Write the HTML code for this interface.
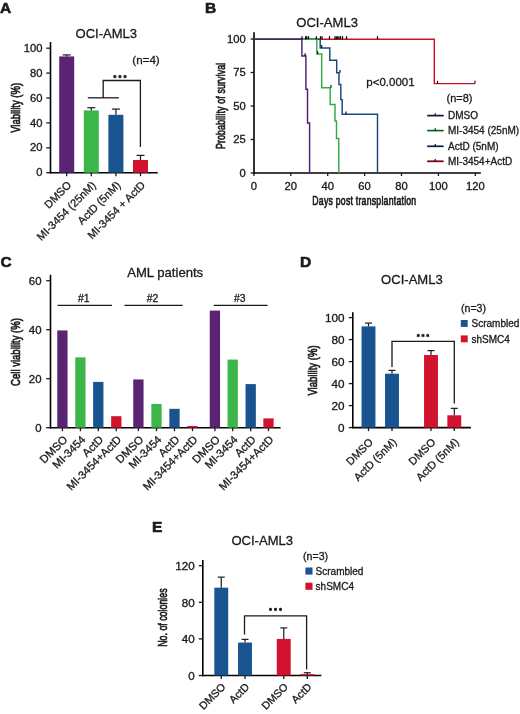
<!DOCTYPE html>
<html><head><meta charset="utf-8"><style>
html,body{margin:0;padding:0;background:#fff;}
svg{display:block;will-change:transform;}
text{font-family:"Liberation Sans", sans-serif;}
</style></head><body>
<svg width="520" height="714" viewBox="0 0 520 714">
<rect width="520" height="714" fill="#fff"/>
<text transform="translate(0.00,13.40)" font-size="15.5" text-anchor="start" font-weight="bold" fill="#1a1a1a"  stroke="#1a1a1a" stroke-width="0.6">A</text>
<text transform="translate(106.30,38.00) scale(0.975,1)" font-size="13.4" text-anchor="middle" font-weight="normal" fill="#1a1a1a"  stroke="#1a1a1a" stroke-width="0.3">OCI-AML3</text>
<line x1="50.50" y1="42.00" x2="50.50" y2="173.35" stroke="#000" stroke-width="1.6"/>
<line x1="46.30" y1="172.70" x2="50.50" y2="172.70" stroke="#1a1a1a" stroke-width="1.3"/>
<text transform="translate(42.50,176.30) scale(1.1,1)" font-size="10.2" text-anchor="end" font-weight="normal" fill="#1a1a1a"  stroke="#1a1a1a" stroke-width="0.3">0</text>
<line x1="46.30" y1="147.80" x2="50.50" y2="147.80" stroke="#1a1a1a" stroke-width="1.3"/>
<text transform="translate(42.50,151.40) scale(1.1,1)" font-size="10.2" text-anchor="end" font-weight="normal" fill="#1a1a1a"  stroke="#1a1a1a" stroke-width="0.3">20</text>
<line x1="46.30" y1="122.90" x2="50.50" y2="122.90" stroke="#1a1a1a" stroke-width="1.3"/>
<text transform="translate(42.50,126.50) scale(1.1,1)" font-size="10.2" text-anchor="end" font-weight="normal" fill="#1a1a1a"  stroke="#1a1a1a" stroke-width="0.3">40</text>
<line x1="46.30" y1="98.00" x2="50.50" y2="98.00" stroke="#1a1a1a" stroke-width="1.3"/>
<text transform="translate(42.50,101.60) scale(1.1,1)" font-size="10.2" text-anchor="end" font-weight="normal" fill="#1a1a1a"  stroke="#1a1a1a" stroke-width="0.3">60</text>
<line x1="46.30" y1="73.10" x2="50.50" y2="73.10" stroke="#1a1a1a" stroke-width="1.3"/>
<text transform="translate(42.50,76.70) scale(1.1,1)" font-size="10.2" text-anchor="end" font-weight="normal" fill="#1a1a1a"  stroke="#1a1a1a" stroke-width="0.3">80</text>
<line x1="46.30" y1="48.20" x2="50.50" y2="48.20" stroke="#1a1a1a" stroke-width="1.3"/>
<text transform="translate(42.50,51.80) scale(1.1,1)" font-size="10.2" text-anchor="end" font-weight="normal" fill="#1a1a1a"  stroke="#1a1a1a" stroke-width="0.3">100</text>
<line x1="49.70" y1="172.70" x2="157.70" y2="172.70" stroke="#000" stroke-width="1.6"/>
<rect x="59.20" y="56.42" width="15.00" height="116.28" fill="#5b2473"/>
<line x1="66.70" y1="56.42" x2="66.70" y2="54.92" stroke="#1a1a1a" stroke-width="1.2"/>
<line x1="62.70" y1="54.92" x2="70.70" y2="54.92" stroke="#1a1a1a" stroke-width="1.2"/>
<line x1="66.70" y1="172.70" x2="66.70" y2="176.20" stroke="#1a1a1a" stroke-width="1.3"/>
<rect x="83.80" y="110.45" width="15.00" height="62.25" fill="#3cb54b"/>
<line x1="91.30" y1="110.45" x2="91.30" y2="107.71" stroke="#1a1a1a" stroke-width="1.2"/>
<line x1="87.30" y1="107.71" x2="95.30" y2="107.71" stroke="#1a1a1a" stroke-width="1.2"/>
<line x1="91.30" y1="172.70" x2="91.30" y2="176.20" stroke="#1a1a1a" stroke-width="1.3"/>
<rect x="108.40" y="114.81" width="15.00" height="57.89" fill="#1a5490"/>
<line x1="115.90" y1="114.81" x2="115.90" y2="109.08" stroke="#1a1a1a" stroke-width="1.2"/>
<line x1="111.90" y1="109.08" x2="119.90" y2="109.08" stroke="#1a1a1a" stroke-width="1.2"/>
<line x1="115.90" y1="172.70" x2="115.90" y2="176.20" stroke="#1a1a1a" stroke-width="1.3"/>
<rect x="133.00" y="160.00" width="15.00" height="12.70" fill="#d1132f"/>
<line x1="140.50" y1="160.00" x2="140.50" y2="155.39" stroke="#1a1a1a" stroke-width="1.2"/>
<line x1="136.50" y1="155.39" x2="144.50" y2="155.39" stroke="#1a1a1a" stroke-width="1.2"/>
<line x1="140.50" y1="172.70" x2="140.50" y2="176.20" stroke="#1a1a1a" stroke-width="1.3"/>
<line x1="87.80" y1="97.80" x2="118.90" y2="97.80" stroke="#1a1a1a" stroke-width="1.3"/>
<polyline points="103.20,97.80 103.20,80.50 140.40,80.50 140.40,147.00" fill="none" stroke="#1a1a1a" stroke-width="1.3" stroke-linejoin="miter"/>
<circle cx="114.90" cy="76.60" r="1.35" fill="#1a1a1a"/>
<line x1="114.90" y1="74.85" x2="114.90" y2="78.35" stroke="#1a1a1a" stroke-width="0.7" transform="rotate(0 114.90 76.60)"/>
<line x1="114.90" y1="74.85" x2="114.90" y2="78.35" stroke="#1a1a1a" stroke-width="0.7" transform="rotate(60 114.90 76.60)"/>
<line x1="114.90" y1="74.85" x2="114.90" y2="78.35" stroke="#1a1a1a" stroke-width="0.7" transform="rotate(120 114.90 76.60)"/>
<circle cx="119.95" cy="76.60" r="1.35" fill="#1a1a1a"/>
<line x1="119.95" y1="74.85" x2="119.95" y2="78.35" stroke="#1a1a1a" stroke-width="0.7" transform="rotate(0 119.95 76.60)"/>
<line x1="119.95" y1="74.85" x2="119.95" y2="78.35" stroke="#1a1a1a" stroke-width="0.7" transform="rotate(60 119.95 76.60)"/>
<line x1="119.95" y1="74.85" x2="119.95" y2="78.35" stroke="#1a1a1a" stroke-width="0.7" transform="rotate(120 119.95 76.60)"/>
<circle cx="125.00" cy="76.60" r="1.35" fill="#1a1a1a"/>
<line x1="125.00" y1="74.85" x2="125.00" y2="78.35" stroke="#1a1a1a" stroke-width="0.7" transform="rotate(0 125.00 76.60)"/>
<line x1="125.00" y1="74.85" x2="125.00" y2="78.35" stroke="#1a1a1a" stroke-width="0.7" transform="rotate(60 125.00 76.60)"/>
<line x1="125.00" y1="74.85" x2="125.00" y2="78.35" stroke="#1a1a1a" stroke-width="0.7" transform="rotate(120 125.00 76.60)"/>
<text transform="translate(146.00,63.60)" font-size="11.6" text-anchor="middle" font-weight="normal" fill="#1a1a1a"  stroke="#1a1a1a" stroke-width="0.3">(n=4)</text>
<text transform="translate(19.50,107.90) rotate(-90) scale(0.73,1)" font-size="13" text-anchor="middle" font-weight="normal" fill="#1a1a1a"  stroke="#1a1a1a" stroke-width="0.7">Viability (%)</text>
<text transform="translate(72.10,185.80) rotate(-45)" font-size="11" text-anchor="end" font-weight="normal" fill="#1a1a1a"  stroke="#1a1a1a" stroke-width="0.3">DMSO</text>
<text transform="translate(96.70,185.80) rotate(-45)" font-size="11" text-anchor="end" font-weight="normal" fill="#1a1a1a"  stroke="#1a1a1a" stroke-width="0.3">MI-3454 (25nM)</text>
<text transform="translate(121.30,185.80) rotate(-45)" font-size="11" text-anchor="end" font-weight="normal" fill="#1a1a1a"  stroke="#1a1a1a" stroke-width="0.3">ActD (5nM)</text>
<text transform="translate(145.90,185.80) rotate(-45)" font-size="11" text-anchor="end" font-weight="normal" fill="#1a1a1a"  stroke="#1a1a1a" stroke-width="0.3">MI-3454 + ActD</text>
<text transform="translate(205.00,13.40)" font-size="15.5" text-anchor="start" font-weight="bold" fill="#1a1a1a"  stroke="#1a1a1a" stroke-width="0.6">B</text>
<text transform="translate(327.10,27.40) scale(0.975,1)" font-size="13.4" text-anchor="middle" font-weight="normal" fill="#1a1a1a"  stroke="#1a1a1a" stroke-width="0.3">OCI-AML3</text>
<line x1="254.00" y1="32.30" x2="254.00" y2="173.65" stroke="#000" stroke-width="1.6"/>
<line x1="250.60" y1="173.00" x2="254.00" y2="173.00" stroke="#1a1a1a" stroke-width="1.3"/>
<text transform="translate(245.80,176.60) scale(1.1,1)" font-size="10.2" text-anchor="end" font-weight="normal" fill="#1a1a1a"  stroke="#1a1a1a" stroke-width="0.3">0</text>
<line x1="250.60" y1="139.50" x2="254.00" y2="139.50" stroke="#1a1a1a" stroke-width="1.3"/>
<text transform="translate(245.80,143.10) scale(1.1,1)" font-size="10.2" text-anchor="end" font-weight="normal" fill="#1a1a1a"  stroke="#1a1a1a" stroke-width="0.3">25</text>
<line x1="250.60" y1="106.00" x2="254.00" y2="106.00" stroke="#1a1a1a" stroke-width="1.3"/>
<text transform="translate(245.80,109.60) scale(1.1,1)" font-size="10.2" text-anchor="end" font-weight="normal" fill="#1a1a1a"  stroke="#1a1a1a" stroke-width="0.3">50</text>
<line x1="250.60" y1="72.50" x2="254.00" y2="72.50" stroke="#1a1a1a" stroke-width="1.3"/>
<text transform="translate(245.80,76.10) scale(1.1,1)" font-size="10.2" text-anchor="end" font-weight="normal" fill="#1a1a1a"  stroke="#1a1a1a" stroke-width="0.3">75</text>
<line x1="250.60" y1="39.00" x2="254.00" y2="39.00" stroke="#1a1a1a" stroke-width="1.3"/>
<text transform="translate(245.80,42.60) scale(1.1,1)" font-size="10.2" text-anchor="end" font-weight="normal" fill="#1a1a1a"  stroke="#1a1a1a" stroke-width="0.3">100</text>
<line x1="253.20" y1="173.00" x2="480.80" y2="173.00" stroke="#000" stroke-width="1.6"/>
<line x1="253.90" y1="173.00" x2="253.90" y2="176.00" stroke="#1a1a1a" stroke-width="1.3"/>
<text transform="translate(253.90,190.00) scale(1.1,1)" font-size="10.2" text-anchor="middle" font-weight="normal" fill="#1a1a1a"  stroke="#1a1a1a" stroke-width="0.3">0</text>
<line x1="290.80" y1="173.00" x2="290.80" y2="176.00" stroke="#1a1a1a" stroke-width="1.3"/>
<text transform="translate(290.80,190.00) scale(1.1,1)" font-size="10.2" text-anchor="middle" font-weight="normal" fill="#1a1a1a"  stroke="#1a1a1a" stroke-width="0.3">20</text>
<line x1="327.70" y1="173.00" x2="327.70" y2="176.00" stroke="#1a1a1a" stroke-width="1.3"/>
<text transform="translate(327.70,190.00) scale(1.1,1)" font-size="10.2" text-anchor="middle" font-weight="normal" fill="#1a1a1a"  stroke="#1a1a1a" stroke-width="0.3">40</text>
<line x1="364.60" y1="173.00" x2="364.60" y2="176.00" stroke="#1a1a1a" stroke-width="1.3"/>
<text transform="translate(364.60,190.00) scale(1.1,1)" font-size="10.2" text-anchor="middle" font-weight="normal" fill="#1a1a1a"  stroke="#1a1a1a" stroke-width="0.3">60</text>
<line x1="401.50" y1="173.00" x2="401.50" y2="176.00" stroke="#1a1a1a" stroke-width="1.3"/>
<text transform="translate(401.50,190.00) scale(1.1,1)" font-size="10.2" text-anchor="middle" font-weight="normal" fill="#1a1a1a"  stroke="#1a1a1a" stroke-width="0.3">80</text>
<line x1="438.40" y1="173.00" x2="438.40" y2="176.00" stroke="#1a1a1a" stroke-width="1.3"/>
<text transform="translate(438.40,190.00) scale(1.1,1)" font-size="10.2" text-anchor="middle" font-weight="normal" fill="#1a1a1a"  stroke="#1a1a1a" stroke-width="0.3">100</text>
<line x1="475.30" y1="173.00" x2="475.30" y2="176.00" stroke="#1a1a1a" stroke-width="1.3"/>
<text transform="translate(475.30,190.00) scale(1.1,1)" font-size="10.2" text-anchor="middle" font-weight="normal" fill="#1a1a1a"  stroke="#1a1a1a" stroke-width="0.3">120</text>
<text transform="translate(364.40,204.90) scale(0.68,1)" font-size="12.8" text-anchor="middle" font-weight="normal" fill="#1a1a1a" letter-spacing="0.35" stroke="#1a1a1a" stroke-width="0.7">Days post transplantation</text>
<text transform="translate(224.90,105.80) rotate(-90) scale(0.69,1)" font-size="12.8" text-anchor="middle" font-weight="normal" fill="#1a1a1a" letter-spacing="0.2" stroke="#1a1a1a" stroke-width="0.7">Probability of survival</text>
<polyline points="254.00,39.20 434.30,39.20 434.30,83.60 475.00,83.60" fill="none" stroke="#c5122e" stroke-width="1.45" stroke-linejoin="miter"/>
<polyline points="254.00,39.20 320.20,39.20 320.20,47.90 329.80,47.90 329.80,60.20 336.70,60.20 336.70,72.70 339.00,72.70 339.00,84.40 340.80,84.40 340.80,99.60 342.20,99.60 342.20,114.30 377.50,114.30 377.50,173.00" fill="none" stroke="#174880" stroke-width="1.45" stroke-linejoin="miter"/>
<polyline points="254.00,39.20 316.80,39.20 316.80,54.00 321.70,54.00 321.70,87.80 330.20,87.80 330.20,104.50 335.00,104.50 335.00,121.00 336.50,121.00 336.50,138.50 338.80,138.50 338.80,173.00" fill="none" stroke="#34aa45" stroke-width="1.45" stroke-linejoin="miter"/>
<polyline points="254.00,39.20 301.90,39.20 301.90,56.00 305.90,56.00 305.90,89.20 307.50,89.20 307.50,122.90 309.60,122.90 309.60,173.00" fill="none" stroke="#4c2270" stroke-width="1.45" stroke-linejoin="miter"/>
<line x1="302.00" y1="36.20" x2="302.00" y2="39.20" stroke="#000" stroke-width="1.2"/>
<line x1="305.60" y1="36.20" x2="305.60" y2="39.20" stroke="#000" stroke-width="1.2"/>
<line x1="306.70" y1="36.20" x2="306.70" y2="39.20" stroke="#000" stroke-width="1.2"/>
<line x1="308.50" y1="36.20" x2="308.50" y2="39.20" stroke="#000" stroke-width="1.2"/>
<line x1="316.30" y1="36.20" x2="316.30" y2="39.20" stroke="#000" stroke-width="1.2"/>
<line x1="320.50" y1="36.20" x2="320.50" y2="39.20" stroke="#000" stroke-width="1.2"/>
<line x1="322.00" y1="36.20" x2="322.00" y2="39.20" stroke="#000" stroke-width="1.2"/>
<line x1="329.50" y1="36.20" x2="329.50" y2="39.20" stroke="#000" stroke-width="1.2"/>
<line x1="335.00" y1="36.20" x2="335.00" y2="39.20" stroke="#000" stroke-width="1.2"/>
<line x1="336.30" y1="36.20" x2="336.30" y2="39.20" stroke="#000" stroke-width="1.2"/>
<line x1="337.70" y1="36.20" x2="337.70" y2="39.20" stroke="#000" stroke-width="1.2"/>
<line x1="339.00" y1="36.20" x2="339.00" y2="39.20" stroke="#000" stroke-width="1.2"/>
<line x1="340.50" y1="36.20" x2="340.50" y2="39.20" stroke="#000" stroke-width="1.2"/>
<line x1="342.50" y1="36.20" x2="342.50" y2="39.20" stroke="#000" stroke-width="1.2"/>
<line x1="346.50" y1="36.20" x2="346.50" y2="39.20" stroke="#000" stroke-width="1.2"/>
<line x1="377.50" y1="36.20" x2="377.50" y2="39.20" stroke="#000" stroke-width="1.2"/>
<line x1="437.50" y1="80.80" x2="437.50" y2="83.60" stroke="#000" stroke-width="1.1"/>
<line x1="475.00" y1="80.80" x2="475.00" y2="83.60" stroke="#000" stroke-width="1.1"/>
<line x1="321.70" y1="45.10" x2="321.70" y2="47.90" stroke="#000" stroke-width="1.1"/>
<line x1="346.00" y1="111.50" x2="346.00" y2="114.30" stroke="#000" stroke-width="1.1"/>
<line x1="305.00" y1="53.20" x2="305.00" y2="56.00" stroke="#000" stroke-width="1.1"/>
<line x1="317.70" y1="51.20" x2="317.70" y2="54.00" stroke="#000" stroke-width="1.1"/>
<line x1="331.00" y1="85.00" x2="331.00" y2="87.80" stroke="#000" stroke-width="1.1"/>
<line x1="340.00" y1="69.90" x2="340.00" y2="72.70" stroke="#000" stroke-width="1.1"/>
<text transform="translate(390.50,85.50)" font-size="11.5" text-anchor="middle" font-weight="normal" fill="#1a1a1a"  stroke="#1a1a1a" stroke-width="0.3">p&lt;0.0001</text>
<text transform="translate(459.50,101.50)" font-size="11" text-anchor="middle" font-weight="normal" fill="#1a1a1a"  stroke="#1a1a1a" stroke-width="0.3">(n=8)</text>
<line x1="427.20" y1="115.60" x2="443.60" y2="115.60" stroke="#4c2270" stroke-width="1.8"/>
<line x1="427.20" y1="115.60" x2="443.60" y2="115.60" stroke="#000" stroke-width="0.6"/>
<line x1="435.20" y1="113.20" x2="435.20" y2="115.60" stroke="#000" stroke-width="1.1"/>
<text transform="translate(448.00,118.80)" font-size="10.0" text-anchor="start" font-weight="normal" fill="#1a1a1a"  stroke="#1a1a1a" stroke-width="0.3">DMSO</text>
<line x1="427.20" y1="130.60" x2="443.60" y2="130.60" stroke="#34aa45" stroke-width="1.8"/>
<line x1="427.20" y1="130.60" x2="443.60" y2="130.60" stroke="#000" stroke-width="0.6"/>
<line x1="435.20" y1="128.20" x2="435.20" y2="130.60" stroke="#000" stroke-width="1.1"/>
<text transform="translate(448.00,133.80)" font-size="10.0" text-anchor="start" font-weight="normal" fill="#1a1a1a"  stroke="#1a1a1a" stroke-width="0.3">MI-3454 (25nM)</text>
<line x1="427.20" y1="146.30" x2="443.60" y2="146.30" stroke="#174880" stroke-width="1.8"/>
<line x1="427.20" y1="146.30" x2="443.60" y2="146.30" stroke="#000" stroke-width="0.6"/>
<line x1="435.20" y1="143.90" x2="435.20" y2="146.30" stroke="#000" stroke-width="1.1"/>
<text transform="translate(448.00,149.50)" font-size="10.0" text-anchor="start" font-weight="normal" fill="#1a1a1a"  stroke="#1a1a1a" stroke-width="0.3">ActD (5nM)</text>
<line x1="427.20" y1="161.30" x2="443.60" y2="161.30" stroke="#c5122e" stroke-width="1.8"/>
<line x1="427.20" y1="161.30" x2="443.60" y2="161.30" stroke="#000" stroke-width="0.6"/>
<line x1="435.20" y1="158.90" x2="435.20" y2="161.30" stroke="#000" stroke-width="1.1"/>
<text transform="translate(448.00,164.50)" font-size="10.0" text-anchor="start" font-weight="normal" fill="#1a1a1a"  stroke="#1a1a1a" stroke-width="0.3">MI-3454+ActD</text>
<text transform="translate(0.60,266.90)" font-size="15.5" text-anchor="start" font-weight="bold" fill="#1a1a1a"  stroke="#1a1a1a" stroke-width="0.6">C</text>
<text transform="translate(165.20,277.30)" font-size="13.1" text-anchor="middle" font-weight="normal" fill="#1a1a1a"  stroke="#1a1a1a" stroke-width="0.3">AML patients</text>
<line x1="50.50" y1="274.80" x2="50.50" y2="428.35" stroke="#000" stroke-width="1.6"/>
<line x1="46.20" y1="427.70" x2="50.50" y2="427.70" stroke="#1a1a1a" stroke-width="1.3"/>
<text transform="translate(41.50,432.10) scale(1.12,1)" font-size="10.2" text-anchor="end" font-weight="normal" fill="#1a1a1a"  stroke="#1a1a1a" stroke-width="0.3">0</text>
<line x1="46.20" y1="378.70" x2="50.50" y2="378.70" stroke="#1a1a1a" stroke-width="1.3"/>
<text transform="translate(41.50,383.10) scale(1.12,1)" font-size="10.2" text-anchor="end" font-weight="normal" fill="#1a1a1a"  stroke="#1a1a1a" stroke-width="0.3">20</text>
<line x1="46.20" y1="329.70" x2="50.50" y2="329.70" stroke="#1a1a1a" stroke-width="1.3"/>
<text transform="translate(41.50,334.10) scale(1.12,1)" font-size="10.2" text-anchor="end" font-weight="normal" fill="#1a1a1a"  stroke="#1a1a1a" stroke-width="0.3">40</text>
<line x1="46.20" y1="280.70" x2="50.50" y2="280.70" stroke="#1a1a1a" stroke-width="1.3"/>
<text transform="translate(41.50,285.10) scale(1.12,1)" font-size="10.2" text-anchor="end" font-weight="normal" fill="#1a1a1a"  stroke="#1a1a1a" stroke-width="0.3">60</text>
<line x1="49.70" y1="427.70" x2="280.60" y2="427.70" stroke="#000" stroke-width="1.6"/>
<rect x="57.25" y="330.43" width="10.30" height="97.27" fill="#5b2473"/>
<line x1="62.40" y1="427.70" x2="62.40" y2="431.20" stroke="#1a1a1a" stroke-width="1.3"/>
<text transform="translate(68.10,440.30) rotate(-45)" font-size="11.2" text-anchor="end" font-weight="normal" fill="#1a1a1a"  stroke="#1a1a1a" stroke-width="0.3">DMSO</text>
<rect x="75.25" y="357.38" width="10.30" height="70.31" fill="#3cb54b"/>
<line x1="80.40" y1="427.70" x2="80.40" y2="431.20" stroke="#1a1a1a" stroke-width="1.3"/>
<text transform="translate(86.10,440.30) rotate(-45)" font-size="11.2" text-anchor="end" font-weight="normal" fill="#1a1a1a"  stroke="#1a1a1a" stroke-width="0.3">MI-3454</text>
<rect x="93.15" y="381.88" width="10.30" height="45.81" fill="#1a5490"/>
<line x1="98.30" y1="427.70" x2="98.30" y2="431.20" stroke="#1a1a1a" stroke-width="1.3"/>
<text transform="translate(104.00,440.30) rotate(-45)" font-size="11.2" text-anchor="end" font-weight="normal" fill="#1a1a1a"  stroke="#1a1a1a" stroke-width="0.3">ActD</text>
<rect x="111.15" y="416.19" width="10.30" height="11.51" fill="#d1132f"/>
<line x1="116.30" y1="427.70" x2="116.30" y2="431.20" stroke="#1a1a1a" stroke-width="1.3"/>
<text transform="translate(122.00,440.30) rotate(-45)" font-size="11.2" text-anchor="end" font-weight="normal" fill="#1a1a1a"  stroke="#1a1a1a" stroke-width="0.3">MI-3454+ActD</text>
<rect x="133.25" y="379.44" width="10.30" height="48.26" fill="#5b2473"/>
<line x1="138.40" y1="427.70" x2="138.40" y2="431.20" stroke="#1a1a1a" stroke-width="1.3"/>
<text transform="translate(144.10,440.30) rotate(-45)" font-size="11.2" text-anchor="end" font-weight="normal" fill="#1a1a1a"  stroke="#1a1a1a" stroke-width="0.3">DMSO</text>
<rect x="151.35" y="403.94" width="10.30" height="23.76" fill="#3cb54b"/>
<line x1="156.50" y1="427.70" x2="156.50" y2="431.20" stroke="#1a1a1a" stroke-width="1.3"/>
<text transform="translate(162.20,440.30) rotate(-45)" font-size="11.2" text-anchor="end" font-weight="normal" fill="#1a1a1a"  stroke="#1a1a1a" stroke-width="0.3">MI-3454</text>
<rect x="169.35" y="408.83" width="10.30" height="18.87" fill="#1a5490"/>
<line x1="174.50" y1="427.70" x2="174.50" y2="431.20" stroke="#1a1a1a" stroke-width="1.3"/>
<text transform="translate(180.20,440.30) rotate(-45)" font-size="11.2" text-anchor="end" font-weight="normal" fill="#1a1a1a"  stroke="#1a1a1a" stroke-width="0.3">ActD</text>
<rect x="187.35" y="425.99" width="10.30" height="1.71" fill="#d1132f"/>
<line x1="192.50" y1="427.70" x2="192.50" y2="431.20" stroke="#1a1a1a" stroke-width="1.3"/>
<text transform="translate(198.20,440.30) rotate(-45)" font-size="11.2" text-anchor="end" font-weight="normal" fill="#1a1a1a"  stroke="#1a1a1a" stroke-width="0.3">MI-3454+ActD</text>
<rect x="209.75" y="310.59" width="10.30" height="117.11" fill="#5b2473"/>
<line x1="214.90" y1="427.70" x2="214.90" y2="431.20" stroke="#1a1a1a" stroke-width="1.3"/>
<text transform="translate(220.60,440.30) rotate(-45)" font-size="11.2" text-anchor="end" font-weight="normal" fill="#1a1a1a"  stroke="#1a1a1a" stroke-width="0.3">DMSO</text>
<rect x="227.55" y="359.59" width="10.30" height="68.11" fill="#3cb54b"/>
<line x1="232.70" y1="427.70" x2="232.70" y2="431.20" stroke="#1a1a1a" stroke-width="1.3"/>
<text transform="translate(238.40,440.30) rotate(-45)" font-size="11.2" text-anchor="end" font-weight="normal" fill="#1a1a1a"  stroke="#1a1a1a" stroke-width="0.3">MI-3454</text>
<rect x="245.55" y="384.09" width="10.30" height="43.61" fill="#1a5490"/>
<line x1="250.70" y1="427.70" x2="250.70" y2="431.20" stroke="#1a1a1a" stroke-width="1.3"/>
<text transform="translate(256.40,440.30) rotate(-45)" font-size="11.2" text-anchor="end" font-weight="normal" fill="#1a1a1a"  stroke="#1a1a1a" stroke-width="0.3">ActD</text>
<rect x="263.35" y="418.39" width="10.30" height="9.31" fill="#d1132f"/>
<line x1="268.50" y1="427.70" x2="268.50" y2="431.20" stroke="#1a1a1a" stroke-width="1.3"/>
<text transform="translate(274.20,440.30) rotate(-45)" font-size="11.2" text-anchor="end" font-weight="normal" fill="#1a1a1a"  stroke="#1a1a1a" stroke-width="0.3">MI-3454+ActD</text>
<line x1="57.60" y1="305.40" x2="112.00" y2="305.40" stroke="#1a1a1a" stroke-width="1.3"/>
<text transform="translate(83.80,301.60)" font-size="10.4" text-anchor="middle" font-weight="normal" fill="#1a1a1a"  stroke="#1a1a1a" stroke-width="0.3">#1</text>
<line x1="124.50" y1="305.40" x2="182.70" y2="305.40" stroke="#1a1a1a" stroke-width="1.3"/>
<text transform="translate(152.60,301.60)" font-size="10.4" text-anchor="middle" font-weight="normal" fill="#1a1a1a"  stroke="#1a1a1a" stroke-width="0.3">#2</text>
<line x1="213.80" y1="305.40" x2="267.60" y2="305.40" stroke="#1a1a1a" stroke-width="1.3"/>
<text transform="translate(239.70,301.60)" font-size="10.4" text-anchor="middle" font-weight="normal" fill="#1a1a1a"  stroke="#1a1a1a" stroke-width="0.3">#3</text>
<text transform="translate(19.60,352.00) rotate(-90) scale(0.735,1)" font-size="13" text-anchor="middle" font-weight="normal" fill="#1a1a1a"  stroke="#1a1a1a" stroke-width="0.7">Cell viability (%)</text>
<text transform="translate(300.00,266.60)" font-size="15.5" text-anchor="start" font-weight="bold" fill="#1a1a1a"  stroke="#1a1a1a" stroke-width="0.6">D</text>
<text transform="translate(411.90,284.20) scale(0.975,1)" font-size="13.4" text-anchor="middle" font-weight="normal" fill="#1a1a1a"  stroke="#1a1a1a" stroke-width="0.3">OCI-AML3</text>
<line x1="352.80" y1="312.30" x2="352.80" y2="428.25" stroke="#000" stroke-width="1.6"/>
<line x1="348.80" y1="427.60" x2="352.80" y2="427.60" stroke="#1a1a1a" stroke-width="1.3"/>
<text transform="translate(344.60,431.60) scale(1.15,1)" font-size="10.2" text-anchor="end" font-weight="normal" fill="#1a1a1a"  stroke="#1a1a1a" stroke-width="0.3">0</text>
<line x1="348.80" y1="405.60" x2="352.80" y2="405.60" stroke="#1a1a1a" stroke-width="1.3"/>
<text transform="translate(344.60,409.60) scale(1.15,1)" font-size="10.2" text-anchor="end" font-weight="normal" fill="#1a1a1a"  stroke="#1a1a1a" stroke-width="0.3">20</text>
<line x1="348.80" y1="383.60" x2="352.80" y2="383.60" stroke="#1a1a1a" stroke-width="1.3"/>
<text transform="translate(344.60,387.60) scale(1.15,1)" font-size="10.2" text-anchor="end" font-weight="normal" fill="#1a1a1a"  stroke="#1a1a1a" stroke-width="0.3">40</text>
<line x1="348.80" y1="361.60" x2="352.80" y2="361.60" stroke="#1a1a1a" stroke-width="1.3"/>
<text transform="translate(344.60,365.60) scale(1.15,1)" font-size="10.2" text-anchor="end" font-weight="normal" fill="#1a1a1a"  stroke="#1a1a1a" stroke-width="0.3">60</text>
<line x1="348.80" y1="339.60" x2="352.80" y2="339.60" stroke="#1a1a1a" stroke-width="1.3"/>
<text transform="translate(344.60,343.60) scale(1.15,1)" font-size="10.2" text-anchor="end" font-weight="normal" fill="#1a1a1a"  stroke="#1a1a1a" stroke-width="0.3">80</text>
<line x1="348.80" y1="317.60" x2="352.80" y2="317.60" stroke="#1a1a1a" stroke-width="1.3"/>
<text transform="translate(344.60,321.60) scale(1.15,1)" font-size="10.2" text-anchor="end" font-weight="normal" fill="#1a1a1a"  stroke="#1a1a1a" stroke-width="0.3">100</text>
<line x1="352.00" y1="427.60" x2="470.90" y2="427.60" stroke="#000" stroke-width="1.6"/>
<rect x="361.55" y="326.40" width="13.90" height="101.20" fill="#1a5490"/>
<line x1="368.50" y1="326.40" x2="368.50" y2="323.10" stroke="#1a1a1a" stroke-width="1.2"/>
<line x1="365.00" y1="323.10" x2="372.00" y2="323.10" stroke="#1a1a1a" stroke-width="1.2"/>
<line x1="368.50" y1="427.60" x2="368.50" y2="431.10" stroke="#1a1a1a" stroke-width="1.3"/>
<text transform="translate(373.70,442.80) rotate(-45)" font-size="10.9" text-anchor="end" font-weight="normal" fill="#1a1a1a"  stroke="#1a1a1a" stroke-width="0.3">DMSO</text>
<rect x="385.05" y="373.70" width="13.90" height="53.90" fill="#1a5490"/>
<line x1="392.00" y1="373.70" x2="392.00" y2="370.40" stroke="#1a1a1a" stroke-width="1.2"/>
<line x1="388.50" y1="370.40" x2="395.50" y2="370.40" stroke="#1a1a1a" stroke-width="1.2"/>
<line x1="392.00" y1="427.60" x2="392.00" y2="431.10" stroke="#1a1a1a" stroke-width="1.3"/>
<text transform="translate(397.20,442.80) rotate(-45)" font-size="10.9" text-anchor="end" font-weight="normal" fill="#1a1a1a"  stroke="#1a1a1a" stroke-width="0.3">ActD (5nM)</text>
<rect x="424.05" y="355.00" width="13.90" height="72.60" fill="#d1132f"/>
<line x1="431.00" y1="355.00" x2="431.00" y2="350.60" stroke="#1a1a1a" stroke-width="1.2"/>
<line x1="427.50" y1="350.60" x2="434.50" y2="350.60" stroke="#1a1a1a" stroke-width="1.2"/>
<line x1="431.00" y1="427.60" x2="431.00" y2="431.10" stroke="#1a1a1a" stroke-width="1.3"/>
<text transform="translate(436.20,442.80) rotate(-45)" font-size="10.9" text-anchor="end" font-weight="normal" fill="#1a1a1a"  stroke="#1a1a1a" stroke-width="0.3">DMSO</text>
<rect x="447.35" y="415.28" width="13.90" height="12.32" fill="#d1132f"/>
<line x1="454.30" y1="415.28" x2="454.30" y2="408.35" stroke="#1a1a1a" stroke-width="1.2"/>
<line x1="450.80" y1="408.35" x2="457.80" y2="408.35" stroke="#1a1a1a" stroke-width="1.2"/>
<line x1="454.30" y1="427.60" x2="454.30" y2="431.10" stroke="#1a1a1a" stroke-width="1.3"/>
<text transform="translate(459.50,442.80) rotate(-45)" font-size="10.9" text-anchor="end" font-weight="normal" fill="#1a1a1a"  stroke="#1a1a1a" stroke-width="0.3">ActD (5nM)</text>
<polyline points="392.00,366.90 392.00,341.40 454.30,341.40 454.30,403.60" fill="none" stroke="#1a1a1a" stroke-width="1.3" stroke-linejoin="miter"/>
<circle cx="418.25" cy="335.50" r="1.35" fill="#1a1a1a"/>
<line x1="418.25" y1="333.75" x2="418.25" y2="337.25" stroke="#1a1a1a" stroke-width="0.7" transform="rotate(0 418.25 335.50)"/>
<line x1="418.25" y1="333.75" x2="418.25" y2="337.25" stroke="#1a1a1a" stroke-width="0.7" transform="rotate(60 418.25 335.50)"/>
<line x1="418.25" y1="333.75" x2="418.25" y2="337.25" stroke="#1a1a1a" stroke-width="0.7" transform="rotate(120 418.25 335.50)"/>
<circle cx="423.00" cy="335.50" r="1.35" fill="#1a1a1a"/>
<line x1="423.00" y1="333.75" x2="423.00" y2="337.25" stroke="#1a1a1a" stroke-width="0.7" transform="rotate(0 423.00 335.50)"/>
<line x1="423.00" y1="333.75" x2="423.00" y2="337.25" stroke="#1a1a1a" stroke-width="0.7" transform="rotate(60 423.00 335.50)"/>
<line x1="423.00" y1="333.75" x2="423.00" y2="337.25" stroke="#1a1a1a" stroke-width="0.7" transform="rotate(120 423.00 335.50)"/>
<circle cx="427.75" cy="335.50" r="1.35" fill="#1a1a1a"/>
<line x1="427.75" y1="333.75" x2="427.75" y2="337.25" stroke="#1a1a1a" stroke-width="0.7" transform="rotate(0 427.75 335.50)"/>
<line x1="427.75" y1="333.75" x2="427.75" y2="337.25" stroke="#1a1a1a" stroke-width="0.7" transform="rotate(60 427.75 335.50)"/>
<line x1="427.75" y1="333.75" x2="427.75" y2="337.25" stroke="#1a1a1a" stroke-width="0.7" transform="rotate(120 427.75 335.50)"/>
<text transform="translate(473.50,311.50)" font-size="10.6" text-anchor="middle" font-weight="normal" fill="#1a1a1a"  stroke="#1a1a1a" stroke-width="0.3">(n=3)</text>
<rect x="460.80" y="320.00" width="6.90" height="6.90" fill="#1a5490"/>
<text transform="translate(471.50,327.20)" font-size="10.0" text-anchor="start" font-weight="normal" fill="#1a1a1a"  stroke="#1a1a1a" stroke-width="0.3">Scrambled</text>
<rect x="460.80" y="335.40" width="6.90" height="6.90" fill="#d1132f"/>
<text transform="translate(471.50,342.50)" font-size="10.0" text-anchor="start" font-weight="normal" fill="#1a1a1a"  stroke="#1a1a1a" stroke-width="0.3">shSMC4</text>
<text transform="translate(316.80,370.50) rotate(-90) scale(0.735,1)" font-size="13" text-anchor="middle" font-weight="normal" fill="#1a1a1a"  stroke="#1a1a1a" stroke-width="0.7">Viability (%)</text>
<text transform="translate(152.00,531.90)" font-size="15.5" text-anchor="start" font-weight="bold" fill="#1a1a1a"  stroke="#1a1a1a" stroke-width="0.6">E</text>
<text transform="translate(262.20,545.10) scale(0.975,1)" font-size="13.4" text-anchor="middle" font-weight="normal" fill="#1a1a1a"  stroke="#1a1a1a" stroke-width="0.3">OCI-AML3</text>
<line x1="202.80" y1="560.00" x2="202.80" y2="676.15" stroke="#000" stroke-width="1.6"/>
<line x1="198.80" y1="675.50" x2="202.80" y2="675.50" stroke="#1a1a1a" stroke-width="1.3"/>
<text transform="translate(194.60,679.70) scale(1.14,1)" font-size="10.2" text-anchor="end" font-weight="normal" fill="#1a1a1a"  stroke="#1a1a1a" stroke-width="0.3">0</text>
<line x1="198.80" y1="638.90" x2="202.80" y2="638.90" stroke="#1a1a1a" stroke-width="1.3"/>
<text transform="translate(194.60,643.10) scale(1.14,1)" font-size="10.2" text-anchor="end" font-weight="normal" fill="#1a1a1a"  stroke="#1a1a1a" stroke-width="0.3">40</text>
<line x1="198.80" y1="602.30" x2="202.80" y2="602.30" stroke="#1a1a1a" stroke-width="1.3"/>
<text transform="translate(194.60,606.50) scale(1.14,1)" font-size="10.2" text-anchor="end" font-weight="normal" fill="#1a1a1a"  stroke="#1a1a1a" stroke-width="0.3">80</text>
<line x1="198.80" y1="565.70" x2="202.80" y2="565.70" stroke="#1a1a1a" stroke-width="1.3"/>
<text transform="translate(194.60,569.90) scale(1.14,1)" font-size="10.2" text-anchor="end" font-weight="normal" fill="#1a1a1a"  stroke="#1a1a1a" stroke-width="0.3">120</text>
<line x1="202.00" y1="675.50" x2="321.30" y2="675.50" stroke="#000" stroke-width="1.6"/>
<rect x="214.30" y="587.66" width="13.90" height="87.84" fill="#1a5490"/>
<line x1="221.25" y1="587.66" x2="221.25" y2="577.14" stroke="#1a1a1a" stroke-width="1.2"/>
<line x1="217.75" y1="577.14" x2="224.75" y2="577.14" stroke="#1a1a1a" stroke-width="1.2"/>
<line x1="221.25" y1="675.50" x2="221.25" y2="679.00" stroke="#1a1a1a" stroke-width="1.3"/>
<text transform="translate(226.15,687.60) rotate(-45)" font-size="10.7" text-anchor="end" font-weight="normal" fill="#1a1a1a"  stroke="#1a1a1a" stroke-width="0.3">DMSO</text>
<rect x="238.05" y="642.56" width="13.90" height="32.94" fill="#1a5490"/>
<line x1="245.00" y1="642.56" x2="245.00" y2="639.36" stroke="#1a1a1a" stroke-width="1.2"/>
<line x1="241.50" y1="639.36" x2="248.50" y2="639.36" stroke="#1a1a1a" stroke-width="1.2"/>
<line x1="245.00" y1="675.50" x2="245.00" y2="679.00" stroke="#1a1a1a" stroke-width="1.3"/>
<text transform="translate(249.90,687.60) rotate(-45)" font-size="10.7" text-anchor="end" font-weight="normal" fill="#1a1a1a"  stroke="#1a1a1a" stroke-width="0.3">ActD</text>
<rect x="276.80" y="638.90" width="13.90" height="36.60" fill="#d1132f"/>
<line x1="283.75" y1="638.90" x2="283.75" y2="627.92" stroke="#1a1a1a" stroke-width="1.2"/>
<line x1="280.25" y1="627.92" x2="287.25" y2="627.92" stroke="#1a1a1a" stroke-width="1.2"/>
<line x1="283.75" y1="675.50" x2="283.75" y2="679.00" stroke="#1a1a1a" stroke-width="1.3"/>
<text transform="translate(288.65,687.60) rotate(-45)" font-size="10.7" text-anchor="end" font-weight="normal" fill="#1a1a1a"  stroke="#1a1a1a" stroke-width="0.3">DMSO</text>
<rect x="300.35" y="674.13" width="13.90" height="1.37" fill="#d1132f"/>
<line x1="307.30" y1="674.13" x2="307.30" y2="672.75" stroke="#1a1a1a" stroke-width="1.2"/>
<line x1="303.80" y1="672.75" x2="310.80" y2="672.75" stroke="#1a1a1a" stroke-width="1.2"/>
<line x1="307.30" y1="675.50" x2="307.30" y2="679.00" stroke="#1a1a1a" stroke-width="1.3"/>
<text transform="translate(312.20,687.60) rotate(-45)" font-size="10.7" text-anchor="end" font-weight="normal" fill="#1a1a1a"  stroke="#1a1a1a" stroke-width="0.3">ActD</text>
<polyline points="244.50,634.50 244.50,615.80 306.60,615.80 306.60,669.50" fill="none" stroke="#1a1a1a" stroke-width="1.3" stroke-linejoin="miter"/>
<circle cx="270.50" cy="609.40" r="1.35" fill="#1a1a1a"/>
<line x1="270.50" y1="607.65" x2="270.50" y2="611.15" stroke="#1a1a1a" stroke-width="0.7" transform="rotate(0 270.50 609.40)"/>
<line x1="270.50" y1="607.65" x2="270.50" y2="611.15" stroke="#1a1a1a" stroke-width="0.7" transform="rotate(60 270.50 609.40)"/>
<line x1="270.50" y1="607.65" x2="270.50" y2="611.15" stroke="#1a1a1a" stroke-width="0.7" transform="rotate(120 270.50 609.40)"/>
<circle cx="275.50" cy="609.40" r="1.35" fill="#1a1a1a"/>
<line x1="275.50" y1="607.65" x2="275.50" y2="611.15" stroke="#1a1a1a" stroke-width="0.7" transform="rotate(0 275.50 609.40)"/>
<line x1="275.50" y1="607.65" x2="275.50" y2="611.15" stroke="#1a1a1a" stroke-width="0.7" transform="rotate(60 275.50 609.40)"/>
<line x1="275.50" y1="607.65" x2="275.50" y2="611.15" stroke="#1a1a1a" stroke-width="0.7" transform="rotate(120 275.50 609.40)"/>
<circle cx="280.50" cy="609.40" r="1.35" fill="#1a1a1a"/>
<line x1="280.50" y1="607.65" x2="280.50" y2="611.15" stroke="#1a1a1a" stroke-width="0.7" transform="rotate(0 280.50 609.40)"/>
<line x1="280.50" y1="607.65" x2="280.50" y2="611.15" stroke="#1a1a1a" stroke-width="0.7" transform="rotate(60 280.50 609.40)"/>
<line x1="280.50" y1="607.65" x2="280.50" y2="611.15" stroke="#1a1a1a" stroke-width="0.7" transform="rotate(120 280.50 609.40)"/>
<text transform="translate(315.60,560.20)" font-size="10.6" text-anchor="middle" font-weight="normal" fill="#1a1a1a"  stroke="#1a1a1a" stroke-width="0.3">(n=3)</text>
<rect x="305.40" y="567.50" width="7.10" height="7.10" fill="#1a5490"/>
<text transform="translate(315.60,575.00)" font-size="10.0" text-anchor="start" font-weight="normal" fill="#1a1a1a"  stroke="#1a1a1a" stroke-width="0.3">Scrambled</text>
<rect x="305.40" y="582.70" width="7.10" height="7.10" fill="#d1132f"/>
<text transform="translate(315.60,590.00)" font-size="10.0" text-anchor="start" font-weight="normal" fill="#1a1a1a"  stroke="#1a1a1a" stroke-width="0.3">shSMC4</text>
<text transform="translate(167.20,617.60) rotate(-90) scale(0.69,1)" font-size="12.8" text-anchor="middle" font-weight="normal" fill="#1a1a1a"  stroke="#1a1a1a" stroke-width="0.7">No. of colonies</text>
</svg>
</body></html>
